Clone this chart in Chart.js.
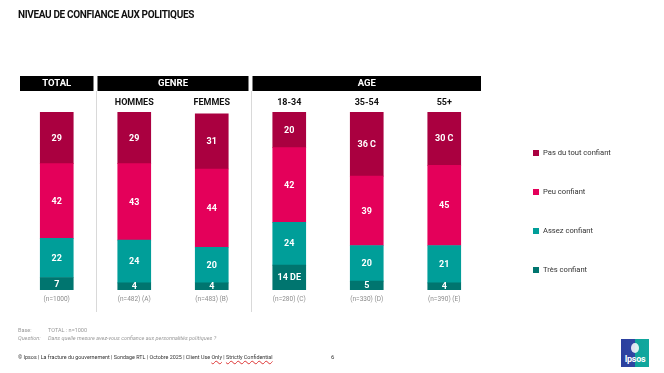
<!DOCTYPE html>
<html>
<head>
<meta charset="utf-8">
<script src="https://cdn.jsdelivr.net/npm/chart.js@4"></script>
<style>
    body { margin: 0; background: #fff; font-family: Roboto, sans-serif; }
    #wrap { position: relative; width: 664px; height: 373px; overflow: hidden; }
    #chart { position: absolute; left: 0; top: 0; }
    .txt { position: absolute; white-space: nowrap; }
    #title { left: 18px; top: 9px; font-size: 10px; font-weight: 700; color: #111; letter-spacing: -0.35px; }
    .note { font-size: 5.5px; color: #9a9a9a; }
    .note i { font-style: italic; }
    #footer { left: 18px; top: 354px; font-size: 5.4px; color: #333; }
    #footer u { text-decoration: underline wavy #d33; }
    #page { left: 331px; top: 353px; font-size: 6px; color: #333; }
    #logo { position: absolute; left: 621px; top: 339px; width: 28px; height: 28px;
            background: linear-gradient(90deg, #2b3f9e 0%, #2f46a3 50%, #0fa39a 50%, #12a89e 100%); }
    #logo span { position: absolute; left: 0; right: 0; bottom: 3px; text-align: center; color: #fff;
                 font-size: 9px; font-weight: 700; letter-spacing: -0.3px; }
    #logo b { position: absolute; left: 10px; top: 4px; width: 8px; height: 10px; border-radius: 50%; background: #fff; opacity: .85; }
</style>
</head>
<body>
<div id="wrap">
    <canvas id="chart" width="664" height="373"></canvas>
    <div id="title" class="txt">NIVEAU DE CONFIANCE AUX POLITIQUES</div>
    <div class="txt note" style="left:18px;top:327px">Base:</div>
    <div class="txt note" style="left:48px;top:327px">TOTAL : n=1000</div>
    <div class="txt note" style="left:18px;top:335px"><i>Question:</i></div>
    <div class="txt note" style="left:48px;top:335px"><i>Dans quelle mesure avez-vous confiance aux personnalités politiques ?</i></div>
    <div id="footer" class="txt">© Ipsos | La fracture du gouvernement | Sondage RTL | Octobre 2025 | Client Use <u>Only</u> | <u>Strictly Confidential</u></div>
    <div id="page" class="txt">6</div>
    <div id="logo"><b></b><span>Ipsos</span></div>
</div>
<script>
/*** données ***/
const categories = ['TOTAL', 'HOMMES', 'FEMMES', '18-34', '35-54', '55+'];
const subHeaders = ['', 'HOMMES', 'FEMMES', '18-34', '35-54', '55+'];
const sampleSizes = ['(n=1000)', '(n=482) (A)', '(n=483) (B)', '(n=280) (C)', '(n=330) (D)', '(n=390) (E)'];

const tresConfiant = [7, 4, 4, 14, 5, 4];
const assezConfiant = [22, 24, 20, 24, 20, 21];
const peuConfiant = [42, 43, 44, 42, 39, 45];
const pasDuToutConfiant = [29, 29, 31, 20, 36, 30];

// lettres de significativité
const tresSignif = ['', '', '', 'DE', '', ''];
const pasSignif = ['', '', '', '', 'C', 'C'];

const groups = [
    { label: 'TOTAL', from: 0, to: 0 },
    { label: 'GENRE', from: 1, to: 2 },
    { label: 'AGE', from: 3, to: 5 }
];

const series = [
    { label: 'Très confiant', data: tresConfiant, signif: tresSignif, color: '#00756f' },
    { label: 'Assez confiant', data: assezConfiant, signif: null, color: '#009e99' },
    { label: 'Peu confiant', data: peuConfiant, signif: null, color: '#e4005a' },
    { label: 'Pas du tout confiant', data: pasDuToutConfiant, signif: pasSignif, color: '#aa0040' }
];

/*** plugin : bandeaux, séparateurs, étiquettes, légende ***/
const decorations = {
    id: 'decorations',
    beforeDatasetsDraw(chart) {
        const c = chart.ctx;
        const x = chart.scales.x;
        const half = (x.getPixelForValue(1) - x.getPixelForValue(0)) / 2;
        c.save();
        // bandeaux noirs
        groups.forEach(g => {
            const l = x.getPixelForValue(g.from) - half + 2;
            const r = x.getPixelForValue(g.to) + half - 2;
            c.fillStyle = '#000';
            c.fillRect(l, 76, r - l, 15);
            c.fillStyle = '#fff';
            c.font = '700 9.5px Roboto';
            c.textAlign = 'center';
            c.textBaseline = 'middle';
            c.fillText(g.label, (l + r) / 2, 84);
        });
        // séparateurs verticaux
        c.strokeStyle = '#d9d9d9';
        c.lineWidth = 1;
        groups.slice(1).forEach(g => {
            const px = Math.round(x.getPixelForValue(g.from) - half) + 0.5;
            c.beginPath();
            c.moveTo(px, 91);
            c.lineTo(px, 312);
            c.stroke();
        });
        // sous-titres et effectifs
        categories.forEach((cat, i) => {
            const px = x.getPixelForValue(i);
            c.fillStyle = '#111';
            c.font = '700 9px Roboto';
            c.textAlign = 'center';
            c.textBaseline = 'middle';
            c.fillText(subHeaders[i], px, 102.5);
            c.fillStyle = '#8c8c8c';
            c.font = '6.5px Roboto';
            c.fillText(sampleSizes[i], px, 299.5);
        });
        c.restore();
    },
    afterDatasetsDraw(chart) {
        const c = chart.ctx;
        c.save();
        c.fillStyle = '#fff';
        c.font = '700 9px Roboto';
        c.textAlign = 'center';
        c.textBaseline = 'middle';
        series.forEach((s, di) => {
            chart.getDatasetMeta(di).data.forEach((bar, j) => {
                let txt = String(s.data[j]);
                if (s.signif && s.signif[j]) txt += ' ' + s.signif[j];
                c.fillText(txt, bar.x, (bar.y + bar.base) / 2 + 0.5);
            });
        });
        // légende
        const items = series.slice().reverse();
        items.forEach((s, k) => {
            const cy = 153 + k * 39;
            c.fillStyle = s.color;
            c.fillRect(533, cy - 3, 6, 6);
            c.fillStyle = '#333';
            c.font = '7.6px Roboto';
            c.textAlign = 'left';
            c.fillText(s.label, 543, cy + 0.5);
        });
        c.restore();
    }
};

/*** graphique ***/
const ctx = document.getElementById('chart').getContext('2d');
const myChart = new Chart(ctx, {
    type: 'bar',
    data: {
        labels: categories,
        datasets: series.map(s => ({
            label: s.label,
            data: s.data,
            backgroundColor: s.color,
            borderWidth: 0,
            barThickness: 33
        }))
    },
    options: {
        responsive: false,
        animation: false,
        layout: {
            padding: { left: 18, right: 181, top: 112, bottom: 83 }
        },
        plugins: {
            legend: { display: false },
            tooltip: { enabled: false }
        },
        scales: {
            x: {
                stacked: true,
                display: false
            },
            y: {
                stacked: true,
                display: false,
                min: 0,
                max: 100
            }
        }
    },
    plugins: [decorations]
});
</script>
</body>
</html>
